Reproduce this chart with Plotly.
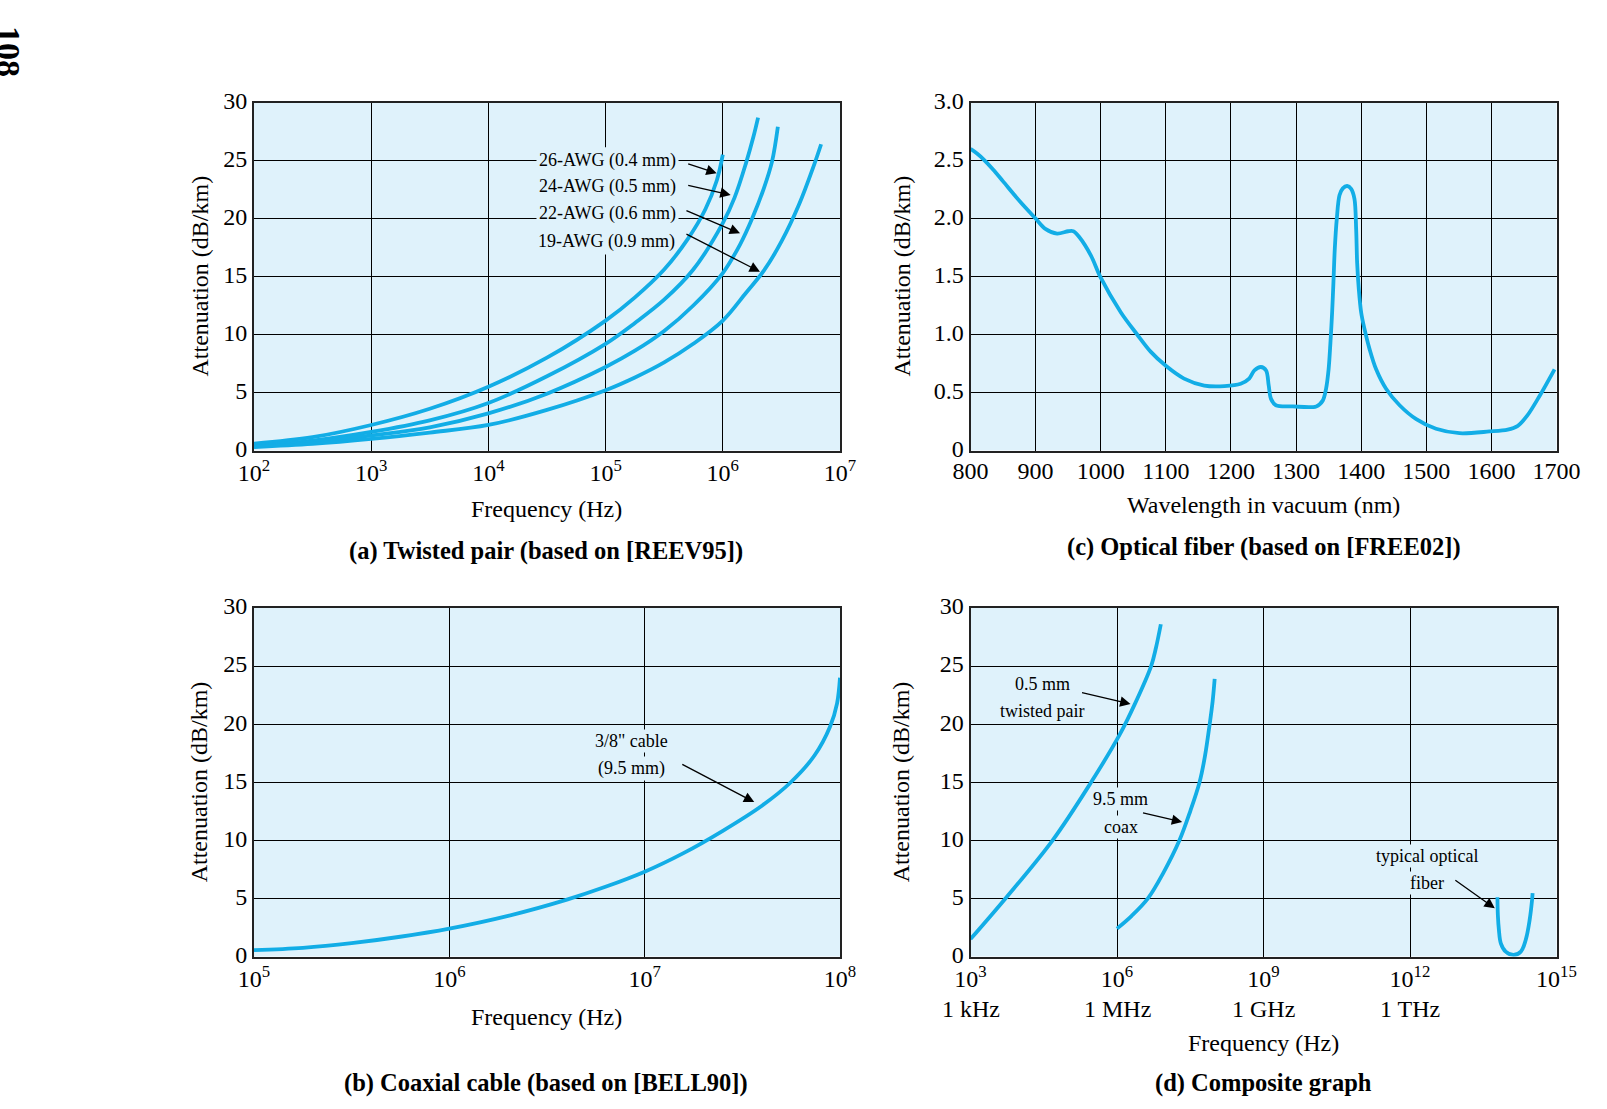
import plotly.graph_objects as go

# ---------------- data ----------------
# (a) Twisted pair: frequency (Hz) vs attenuation (dB/km)
awg26_freq = [1e2, 3.16e2, 1e3, 3.16e3, 1e4, 3.16e4, 1e5, 1.78e5, 3.16e5, 5e5, 7.1e5, 8.9e5, 1e6]
awg26_db = [0.6, 1.15, 2.2, 3.6, 5.5, 8.0, 11.2, 13.2, 15.6, 18.2, 20.8, 23.3, 25.5]
awg24_freq = [1e2, 3.16e2, 1e3, 3.16e3, 1e4, 3.16e4, 1e5, 1.78e5, 3.16e5, 5.6e5, 1e6, 1.26e6, 1.58e6, 1.82e6, 2e6]
awg24_db = [0.45, 0.86, 1.6, 2.6, 4.1, 6.4, 9.2, 11.0, 13.0, 15.6, 19.6, 21.8, 24.8, 27.0, 28.7]
awg22_freq = [1e2, 3.16e2, 1e3, 3.16e3, 1e4, 3.16e4, 1e5, 1.78e5, 3.16e5, 5.6e5, 1e6, 1.41e6, 1.78e6, 2.24e6, 2.63e6, 2.95e6]
awg22_db = [0.35, 0.72, 1.3, 2.0, 3.2, 4.9, 7.2, 8.6, 10.3, 12.5, 15.3, 17.8, 20.0, 22.6, 24.9, 27.9]
awg19_freq = [1e2, 3.16e2, 1e3, 3.16e3, 1e4, 3.16e4, 1e5, 1.78e5, 3.16e5, 5.6e5, 1e6, 1.58e6, 2.24e6, 3.16e6, 4.47e6, 6e6, 6.9e6]
awg19_db = [0.3, 0.57, 1.0, 1.55, 2.2, 3.5, 5.2, 6.3, 7.6, 9.2, 11.2, 13.6, 15.5, 18.0, 21.2, 24.6, 26.4]

# (b) Coaxial cable
coax_freq = [1e5, 1.78e5, 3.16e5, 5.6e5, 1e6, 2e6, 4e6, 6.3e6, 1e7, 1.58e7, 2.5e7, 4e7, 5.6e7, 7.4e7, 8.9e7, 9.66e7, 1e8]
coax_db = [0.55, 0.75, 1.15, 1.7, 2.4, 3.5, 4.9, 6.0, 7.3, 8.9, 10.8, 13.0, 15.0, 17.3, 19.8, 21.8, 24.0]

# (c) Optical fiber: wavelength (nm) vs attenuation (dB/km)
fiber_nm = [800, 810, 820, 835, 850, 877, 900, 915, 933, 950, 958, 967, 985, 1000, 1031, 1056, 1077,
            1100, 1128, 1159, 1190, 1215, 1228, 1236, 1246, 1254, 1258, 1261.5, 1269, 1295,
            1331, 1341, 1346, 1350, 1352.8, 1355.4, 1357.4, 1359.5, 1362.6, 1366.7, 1371.8,
            1378.5, 1384.6, 1389.7, 1392.3, 1393.8, 1396.4, 1400, 1405, 1412.8, 1423, 1438.5,
            1459, 1484.6, 1515, 1551, 1597, 1625, 1640, 1655, 1674, 1697]
fiber_db = [2.60, 2.56, 2.51, 2.42, 2.32, 2.14, 2.00, 1.91, 1.87, 1.89, 1.89, 1.84, 1.68, 1.49, 1.19, 1.00, 0.85,
            0.73, 0.62, 0.56, 0.555, 0.575, 0.62, 0.69, 0.72, 0.69, 0.56, 0.445, 0.39, 0.38,
            0.38, 0.43, 0.53, 0.70, 0.93, 1.19, 1.45, 1.74, 2.00, 2.20, 2.26,
            2.28, 2.256, 2.17, 1.91, 1.62, 1.39, 1.19, 1.05, 0.876, 0.70, 0.53,
            0.39, 0.27, 0.187, 0.149, 0.164, 0.18, 0.21, 0.30, 0.47, 0.70]

# (d) Composite graph
comp_tp_freq = [1e3, 5.2e3, 4.8e4, 2.95e5, 1.12e6, 2.3e6, 5e6, 6.3e6, 7.9e6]
comp_tp_db = [1.5, 5.0, 10.0, 15.0, 19.05, 21.7, 25.0, 26.6, 28.6]
comp_coax_freq = [1e6, 2e6, 4.3e6, 8.9e6, 1.9e7, 3.16e7, 4.9e7, 6.3e7, 7.9e7, 9.1e7, 1e8]
comp_coax_db = [2.4, 3.5, 5.0, 7.2, 10.0, 12.5, 15.0, 17.2, 20.0, 22.0, 23.9]
comp_fiber_freq = [6.17e13, 6.31e13, 6.61e13, 7.24e13, 9.12e13, 1.32e14, 1.86e14, 2.34e14, 2.82e14, 3.16e14, 3.24e14]
comp_fiber_db = [5.1, 3.5, 2.3, 1.14, 0.42, 0.13, 0.42, 1.42, 3.15, 4.87, 5.45]

# tick labels
ticks_a = [1e2, 1e3, 1e4, 1e5, 1e6, 1e7]
ticktext_a = ["10<sup>2</sup>", "10<sup>3</sup>", "10<sup>4</sup>", "10<sup>5</sup>", "10<sup>6</sup>", "10<sup>7</sup>"]
ticks_b = [1e5, 1e6, 1e7, 1e8]
ticktext_b = ["10<sup>5</sup>", "10<sup>6</sup>", "10<sup>7</sup>", "10<sup>8</sup>"]
ticks_c_x = [800, 900, 1000, 1100, 1200, 1300, 1400, 1500, 1600, 1700]
ticks_c_y = [0, 0.5, 1.0, 1.5, 2.0, 2.5, 3.0]
ticktext_c_y = ["0", "0.5", "1.0", "1.5", "2.0", "2.5", "3.0"]
ticks_d = [1e3, 1e6, 1e9, 1e12, 1e15]
ticktext_d = ["10<sup>3</sup>", "10<sup>6</sup>", "10<sup>9</sup>", "10<sup>12</sup>", "10<sup>15</sup>"]
units_d_exp = [3, 6, 9, 12]
units_d = ["1 kHz", "1 MHz", "1 GHz", "1 THz"]
ticks_db = [0, 5, 10, 15, 20, 25, 30]

# ---------------- style ----------------
W, H = 1607, 1109
FONT = "Liberation Serif"
LINE = "#12ade6"
BG = "#dff2fb"


def px(x):
    return x / W


def py(y):
    return 1 - y / H


fig = go.Figure()


def add_line(x, y, xa, ya, smooth=1.0):
    fig.add_trace(go.Scatter(x=x, y=y, xaxis=xa, yaxis=ya, mode="lines",
                             line=dict(color=LINE, width=3.8, shape="spline", smoothing=smooth),
                             showlegend=False, hoverinfo="skip"))


add_line(awg26_freq, awg26_db, "x", "y")
add_line(awg24_freq, awg24_db, "x", "y")
add_line(awg22_freq, awg22_db, "x", "y")
add_line(awg19_freq, awg19_db, "x", "y")
add_line(coax_freq, coax_db, "x2", "y2")
add_line(fiber_nm, fiber_db, "x3", "y3", smooth=0.9)
add_line(comp_tp_freq, comp_tp_db, "x4", "y4")
add_line(comp_coax_freq, comp_coax_db, "x4", "y4")
add_line(comp_fiber_freq, comp_fiber_db, "x4", "y4", smooth=1.0)

# plot-area pixel boxes
LX0, LX1, RX0, RX1 = 254, 840, 970.5, 1556.5
TY0, TY1, BY0, BY1 = 102.5, 450.5, 608, 956.5
left_dom = [px(LX0), px(LX1)]
right_dom = [px(RX0), px(RX1)]
top_dom = [py(TY1), py(TY0)]
bot_dom = [py(BY1), py(BY0)]

axis_common = dict(showgrid=True, gridcolor="black", gridwidth=1, showline=True, mirror=True,
                   linecolor="#222222", linewidth=2, ticks="", zeroline=False,
                   tickfont=dict(family=FONT, size=24, color="black"), automargin=False)
ycommon = dict(ticklabelshift=-2, **axis_common)

fig.update_layout(
    width=W, height=H, margin=dict(l=0, r=0, t=0, b=0),
    paper_bgcolor="white", plot_bgcolor=BG, showlegend=False,
    font=dict(family=FONT, color="black"),
    xaxis=dict(domain=left_dom, anchor="y", type="log", range=[2, 7], tickvals=ticks_a,
               ticktext=ticktext_a, ticklabelstandoff=0, **axis_common),
    yaxis=dict(domain=top_dom, anchor="x", range=[0, 30], tickvals=ticks_db, **ycommon),
    xaxis2=dict(domain=left_dom, anchor="y2", type="log", range=[5, 8], tickvals=ticks_b,
                ticktext=ticktext_b, ticklabelstandoff=0, **axis_common),
    yaxis2=dict(domain=bot_dom, anchor="x2", range=[0, 30], tickvals=ticks_db, **ycommon),
    xaxis3=dict(domain=right_dom, anchor="y3", range=[800, 1700], tickvals=ticks_c_x,
                ticklabelstandoff=-2, **axis_common),
    yaxis3=dict(domain=top_dom, anchor="x3", range=[0, 3], tickvals=ticks_c_y,
                ticktext=ticktext_c_y, **ycommon),
    xaxis4=dict(domain=right_dom, anchor="y4", type="log", range=[3, 15], tickvals=ticks_d,
                ticktext=ticktext_d, ticklabelstandoff=0, **axis_common),
    yaxis4=dict(domain=bot_dom, anchor="x4", range=[0, 30], tickvals=ticks_db, **ycommon),
)

ann = []


def paper_text(x, y, text, size=24, angle=0):
    ann.append(dict(x=px(x), y=py(y), xref="paper", yref="paper", text=text, showarrow=False,
                    textangle=angle, font=dict(family=FONT, size=size, color="black"),
                    xanchor="center", yanchor="middle"))


S = W / 1568  # reference-view scale
# axis titles
paper_text(533 * S, 497 * S, "Frequency (Hz)")
paper_text(1233 * S, 493 * S, "Wavelength in vacuum (nm)")
paper_text(533 * S, 992 * S, "Frequency (Hz)")
paper_text(1233 * S, 1018 * S, "Frequency (Hz)")
paper_text(199, 276.5, "Attenuation (dB/km)", angle=-90)
paper_text(901, 276.5, "Attenuation (dB/km)", angle=-90)
paper_text(199, 782.3, "Attenuation (dB/km)", angle=-90)
paper_text(901, 782.3, "Attenuation (dB/km)", angle=-90)
# captions
paper_text(533 * S, 538 * S, "<b>(a) Twisted pair (based on [REEV95])</b>", size=24.5)
paper_text(1233 * S, 534 * S, "<b>(c) Optical fiber (based on [FREE02])</b>", size=24.5)
paper_text(533 * S, 1057 * S, "<b>(b) Coaxial cable (based on [BELL90])</b>", size=24.5)
paper_text(1233 * S, 1057 * S, "<b>(d) Composite graph</b>", size=24.5)
# page number
paper_text(8, 51, "<b>108</b>", size=34, angle=90)

# second line of the composite-graph tick labels
for e, u in zip(units_d_exp, units_d):
    ann.append(dict(x=e, y=py(1008.5), xref="x4", yref="paper", text=u, showarrow=False,
                    font=dict(family=FONT, size=24, color="black"),
                    xanchor="center", yanchor="middle"))


def a_x(p):
    return 2 + (p - LX0) / (LX1 - LX0) * 5


def a_y(p):
    return (TY1 - p) / (TY1 - TY0) * 30


# thin background strip hiding the 10^5 grid line behind the AWG labels
ann.append(dict(x=5, y=a_y(201), xref="x", yref="y", text="&nbsp;", showarrow=False,
                bgcolor=BG, borderpad=0, width=7, height=106,
                font=dict(family=FONT, size=4, color=BG), xanchor="center", yanchor="middle"))


def label(xa, ya, x, y, text, xanchor="center", bg=True, pad=1):
    ann.append(dict(x=x, y=y, xref=xa, yref=ya, text=text, showarrow=False,
                    bgcolor=BG if bg else "rgba(0,0,0,0)", borderpad=pad,
                    font=dict(family=FONT, size=18, color="black"),
                    xanchor=xanchor, yanchor="middle"))


def arrow(xa, ya, x0, y0, x1, y1):
    ann.append(dict(x=x1, y=y1, ax=x0, ay=y0, xref=xa, yref=ya, axref=xa, ayref=ya, text="",
                    showarrow=True, arrowhead=2, arrowsize=1.6, arrowwidth=1.3,
                    arrowcolor="black", standoff=0, startstandoff=0))


# (a) labels
label("x", "y", a_x(679), 25.04, "26-AWG (0.4 mm)", "right", pad=2)
label("x", "y", a_x(679), 22.74, "24-AWG (0.5 mm)", "right", pad=2)
label("x", "y", a_x(679), 20.39, "22-AWG (0.6 mm)", "right", pad=2)
label("x", "y", a_x(677), 18.0, "19-AWG (0.9 mm)", "right", bg=False)
arrow("x", "y", 5.692, 24.76, 5.948, 23.9)
arrow("x", "y", 5.692, 22.89, 6.067, 22.03)
arrow("x", "y", 5.677, 20.73, 6.147, 18.72)
arrow("x", "y", 5.677, 18.72, 6.317, 15.41)
# (b)
label("x2", "y2", 6.934, 18.52, "3/8\" cable")
label("x2", "y2", 6.934, 16.16, "(9.5 mm)")
arrow("x2", "y2", 7.185, 16.6, 7.561, 13.29)
# (d)
label("x4", "y4", 4.468, 23.49, "0.5 mm", bg=False)
label("x4", "y4", 4.468, 21.1, "twisted pair", bg=False)
arrow("x4", "y4", 5.253, 22.74, 6.277, 21.74)
label("x4", "y4", 6.072, 13.58, "9.5 mm")
label("x4", "y4", 6.072, 11.19, "coax")
arrow("x4", "y4", 6.502, 12.4, 7.335, 11.57)
label("x4", "y4", 12.353, 8.66, "typical optical")
label("x4", "y4", 12.353, 6.31, "fiber")
arrow("x4", "y4", 12.898, 6.65, 13.737, 4.15)

fig.update_layout(annotations=ann)
fig.write_html("out.html")
